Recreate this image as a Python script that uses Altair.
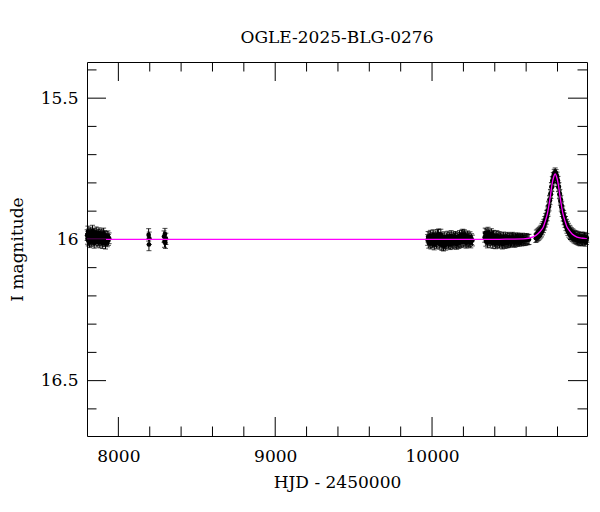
import altair as alt
import pandas as pd

TITLE = "OGLE-2025-BLG-0276"
XTITLE = "HJD - 2450000"
YTITLE = "I magnitude"

# ---- photometry (HJD-2450000, I mag) ----
c1_t = [7801, 7803, 7806, 7808, 7811, 7813, 7816, 7819, 7821, 7824, 7827, 7829,
        7832, 7835, 7838, 7840, 7843, 7846, 7849, 7852, 7855, 7858, 7861, 7864,
        7867, 7870, 7873, 7876, 7879, 7882, 7885, 7888, 7891, 7894, 7897, 7900,
        7903, 7906, 7909, 7912, 7915, 7918, 7921, 7925, 7929, 7933, 7937, 7941]
c1_m = [15.985, 15.998, 15.972, 16.004, 15.990, 15.981, 16.010, 15.994, 15.976, 15.999, 16.006, 15.983,
        15.991, 15.969, 16.002, 15.987, 15.995, 16.012, 15.980, 15.993, 16.001, 15.975, 15.989, 16.008,
        15.996, 15.984, 16.003, 15.978, 15.992, 16.011, 15.986, 15.997, 16.004, 15.982, 15.990, 16.013,
        15.995, 15.979, 16.006, 15.988, 16.000, 16.015, 15.991, 15.998, 16.007, 15.989, 16.002, 15.996]

c2_t = [8193, 8195, 8197]
c2_m = [15.984, 16.018, 15.996]

c3_t = [8291, 8294, 8297, 8300, 8303]
c3_m = [15.990, 16.008, 15.981, 16.012, 15.998]

c4_t = [9972, 9975, 9979, 9982, 9986, 9989, 9993, 9996, 10000, 10003, 10007, 10010,
        10014, 10017, 10021, 10024, 10028, 10031, 10035, 10038, 10042, 10045, 10049, 10052,
        10056, 10059, 10063, 10066, 10070, 10073, 10077, 10080, 10084, 10087, 10091, 10094,
        10098, 10101, 10105, 10108, 10112, 10115, 10119, 10122, 10126, 10129, 10133, 10136,
        10140, 10143, 10147, 10150, 10154, 10157, 10161, 10164, 10168, 10171, 10175, 10178,
        10182, 10185, 10189, 10192, 10196, 10199, 10203, 10206, 10210, 10213, 10217, 10220,
        10224, 10227, 10231, 10234, 10238, 10242, 10247, 10252, 10257]
c4_m = [16.002, 15.991, 16.012, 15.996, 16.008, 15.987, 16.015, 16.000, 15.993, 16.010, 15.985, 16.004,
        16.018, 15.995, 16.006, 15.989, 16.013, 15.998, 15.984, 16.009, 15.982, 16.001, 16.016, 15.994,
        15.983, 16.007, 16.020, 15.999, 16.011, 16.022, 15.992, 16.014, 16.003, 16.019, 15.996, 16.010,
        16.005, 15.990, 16.013, 16.001, 15.994, 16.017, 16.006, 15.988, 16.011, 16.000, 16.015, 15.993,
        16.008, 15.997, 16.012, 15.991, 16.004, 16.016, 15.995, 16.009, 15.999, 16.013, 15.988, 16.006,
        15.994, 16.010, 15.986, 16.002, 15.983, 16.008, 15.990, 15.985, 16.005, 15.993, 16.012, 15.997,
        16.003, 15.989, 16.009, 15.996, 16.006, 15.992, 16.011, 15.999, 16.004]

c5_t = [10336, 10339, 10343, 10346, 10350, 10353, 10357, 10360, 10364, 10367, 10371, 10374,
        10378, 10381, 10385, 10388, 10392, 10395, 10399, 10402, 10406, 10409, 10413, 10416,
        10420, 10423, 10427, 10430, 10434, 10437, 10441, 10444, 10448, 10451, 10455, 10458,
        10462, 10465, 10469, 10472, 10476, 10479, 10483, 10486, 10490, 10493, 10497, 10500,
        10504, 10507, 10511, 10514, 10518, 10521, 10525, 10528, 10532, 10535, 10539, 10542,
        10546, 10549, 10553, 10556, 10560, 10564, 10568, 10572, 10577, 10582, 10587, 10592,
        10598, 10604, 10611, 10618]
c5_m = [15.992, 15.978, 16.006, 15.981, 15.997, 16.012, 15.975, 15.989, 16.004, 15.984, 16.010, 15.994,
        15.980, 16.002, 15.988, 16.014, 15.986, 15.999, 16.008, 15.991, 16.015, 16.000, 15.987, 16.011,
        15.996, 16.006, 15.990, 16.013, 16.002, 15.994, 16.009, 15.998, 16.016, 16.004, 15.992, 16.010,
        16.001, 16.014, 15.995, 16.007, 15.999, 16.012, 15.993, 16.005, 16.011, 15.997, 16.003, 16.009,
        15.995, 16.006, 16.000, 15.993, 16.008, 15.998, 16.004, 16.010, 15.996, 16.002, 15.999, 16.007,
        15.995, 16.003, 16.000, 16.006, 15.997, 16.002, 15.999, 16.005, 15.996, 16.001, 16.004, 15.998,
        16.003, 15.997, 16.001, 16.000]

c6_t = [10662, 10665, 10668, 10671, 10674, 10677, 10680, 10683, 10686, 10689, 10692, 10695,
        10698, 10701, 10704, 10707, 10710, 10713, 10716, 10719, 10722, 10725, 10728, 10731,
        10734, 10737, 10740, 10743, 10746, 10749, 10752, 10755, 10758, 10761, 10764, 10767,
        10770, 10773, 10776, 10779, 10782, 10785, 10788, 10791, 10794, 10797, 10800, 10803,
        10806, 10809, 10812, 10815, 10818, 10821, 10824, 10827, 10830, 10833, 10836, 10839,
        10842, 10845, 10848, 10851, 10854, 10857, 10860, 10863, 10866, 10869, 10872, 10875,
        10878, 10881, 10884, 10887, 10890, 10893, 10896, 10900, 10904, 10908, 10912, 10916,
        10920, 10924, 10928, 10932, 10936, 10940, 10944, 10948, 10952, 10956, 10960, 10964,
        10968, 10972, 10976, 10980, 10984, 10987]
c6_m = [15.996, 15.982, 15.993, 15.979, 15.990, 15.976, 15.988, 15.973, 15.984, 15.969, 15.980, 15.965,
        15.976, 15.958, 15.969, 15.952, 15.961, 15.944, 15.952, 15.934, 15.941, 15.923, 15.931, 15.912,
        15.919, 15.897, 15.903, 15.880, 15.884, 15.859, 15.862, 15.838, 15.840, 15.814, 15.815, 15.792,
        15.797, 15.778, 15.784, 15.767, 15.774, 15.762, 15.775, 15.768, 15.785, 15.777, 15.798, 15.792,
        15.816, 15.814, 15.841, 15.838, 15.864, 15.859, 15.885, 15.880, 15.904, 15.897, 15.920, 15.912,
        15.933, 15.922, 15.943, 15.934, 15.954, 15.944, 15.963, 15.951, 15.971, 15.958, 15.977, 15.965,
        15.982, 15.968, 15.986, 15.973, 15.990, 15.977, 15.993, 15.979, 15.997, 15.983, 16.000, 15.985,
        16.002, 15.986, 16.004, 15.988, 16.006, 15.990, 16.008, 15.991, 16.005, 15.989, 16.007, 15.992,
        16.004, 15.990, 16.009, 15.993, 16.003, 15.995]

seg_times = [c1_t, c2_t, c3_t, c4_t, c5_t, c6_t]
seg_mags = [c1_m, c2_m, c3_m, c4_m, c5_m, c6_m]
seg_err = [0.019, 0.022, 0.020, 0.019, 0.018, 0.015]

# ---- microlensing model curve ----
model_t = [7800, 10400, 10500, 10585, 10645, 10675, 10695, 10710, 10725, 10735, 10745,
           10755, 10765, 10775, 10785, 10795, 10805, 10815, 10825, 10835, 10845, 10860,
           10875, 10895, 10925, 10960, 10988]
model_m = [16.000, 16.000, 15.999, 15.998, 15.991, 15.980, 15.968, 15.955, 15.930, 15.910, 15.880,
           15.845, 15.805, 15.780, 15.768, 15.780, 15.805, 15.845, 15.880, 15.910, 15.930, 15.955,
           15.968, 15.982, 15.992, 15.996, 15.998]

# ---- axes ----
X_DOMAIN = [7800, 10988]
Y_DOMAIN = [15.372, 16.696]
x_major = [8000, 9000, 10000]
x_minor = [8200, 8400, 8600, 8800, 9200, 9400, 9600, 9800, 10200, 10400, 10600, 10800]
y_major = [15.5, 16.0, 16.5]
y_minor = [15.4, 15.6, 15.7, 15.8, 15.9, 16.1, 16.2, 16.3, 16.4, 16.6]

rows = []
for ts, ms, e in zip(seg_times, seg_mags, seg_err):
    for t, m in zip(ts, ms):
        rows.append({"t": t, "m": m, "lo": m - e, "hi": m + e})
pts = pd.DataFrame(rows)
model = pd.DataFrame({"t": model_t, "m": model_m})

W, H = 500, 374
FONT = "DejaVu Serif"
xs = alt.Scale(domain=X_DOMAIN, nice=False, zero=False)
ys = alt.Scale(domain=Y_DOMAIN, nice=False, zero=False, reverse=True)

xaxis = alt.Axis(values=x_major, format="d", ticks=False, domain=False, grid=False,
                 labelPadding=12, titlePadding=10, title=XTITLE)
yaxis = alt.Axis(values=y_major, ticks=False, domain=False, grid=False,
                 labelPadding=9, titlePadding=14, title=YTITLE,
                 labelExpr="datum.value == 16 ? '16' : format(datum.value, '.1f')")


def X(f):
    return alt.X(f, type="quantitative", scale=xs, axis=xaxis, title=XTITLE)


def Y(f):
    return alt.Y(f, type="quantitative", scale=ys, axis=yaxis, title=YTITLE)


base = alt.Chart(pts)
bars = base.mark_rule(color="black", strokeWidth=1).encode(x=X("t"), y=Y("lo"), y2="hi")
cap_lo = base.mark_tick(color="black", orient="horizontal", size=5, thickness=1).encode(
    x=X("t"), y=Y("lo"))
cap_hi = base.mark_tick(color="black", orient="horizontal", size=5, thickness=1).encode(
    x=X("t"), y=Y("hi"))
dots = base.mark_circle(color="black", opacity=1, size=22).encode(x=X("t"), y=Y("m"))
line = alt.Chart(model).mark_line(color="#ff00ff", strokeWidth=1.3, interpolate="monotone").encode(
    x=X("t"), y=Y("m"))


def xticks(vals, length):
    d = alt.Chart(pd.DataFrame({"t": vals}))
    bot = d.mark_rule(color="black", strokeWidth=1).encode(
        x=X("t"), y=alt.value(H), y2=alt.value(H - length))
    top = d.mark_rule(color="black", strokeWidth=1).encode(
        x=X("t"), y=alt.value(0), y2=alt.value(length))
    return [bot, top]


def yticks(vals, length):
    d = alt.Chart(pd.DataFrame({"m": vals}))
    left = d.mark_rule(color="black", strokeWidth=1).encode(
        y=Y("m"), x=alt.value(0), x2=alt.value(length))
    right = d.mark_rule(color="black", strokeWidth=1).encode(
        y=Y("m"), x=alt.value(W), x2=alt.value(W - length))
    return [left, right]


tick_layers = xticks(x_major, 19) + xticks(x_minor, 9.5) + yticks(y_major, 19) + yticks(y_minor, 9.5)

chart = alt.layer(bars, cap_lo, cap_hi, dots, line, *tick_layers).properties(
    width=W, height=H,
    title=alt.TitleParams(TITLE, font=FONT, fontSize=17, fontWeight="normal", color="black",
                          anchor="middle", baseline="alphabetic", offset=2),
    autosize=alt.AutoSizeParams(type="none"),
    padding={"left": 79, "top": 54, "right": 5, "bottom": 70},
).configure_view(stroke="black", strokeWidth=1).configure_axis(
    labelFont=FONT, titleFont=FONT, labelFontSize=17, titleFontSize=17,
    labelColor="black", titleColor="black", titleFontWeight="normal",
)

chart.save("out.html", embed_options={"renderer": "svg", "actions": False})
